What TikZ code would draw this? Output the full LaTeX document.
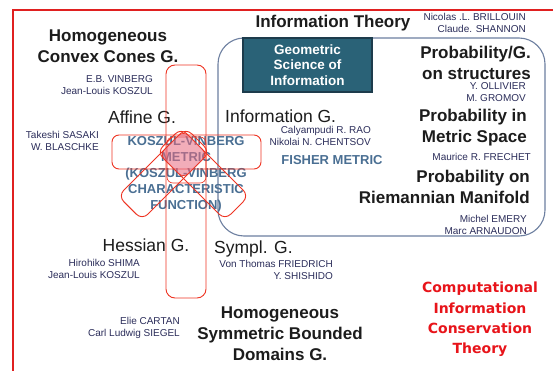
\documentclass[tikz,border=0pt]{standalone}
\usepackage{fontspec}
\setmainfont{Liberation Sans}
\newfontfamily\cictfont{DejaVu Sans}
\definecolor{headc}{HTML}{1C1C1C}
\definecolor{namec}{HTML}{2B2D5A}
\definecolor{steelc}{HTML}{4A6F93}
\definecolor{lensc}{HTML}{EE3322}
\definecolor{framec}{HTML}{E02020}
\definecolor{roundc}{HTML}{6D7FA0}
\definecolor{gsifill}{HTML}{2A6277}
\definecolor{gsiedge}{HTML}{1D3C4C}
\definecolor{cictc}{HTML}{E8141A}
\definecolor{pinkc}{HTML}{E86A80}

\begin{document}
\begin{tikzpicture}[x=1pt, y=-1pt,
    head/.style={font=\fontsize{17}{21}\selectfont\bfseries, text=headc,
                 inner sep=0pt, align=center},
    geom/.style={font=\fontsize{17.5}{21}\selectfont, text=headc, inner sep=0pt},
    who/.style={font=\fontsize{10}{12}\selectfont, text=namec, inner sep=0pt},
    metric/.style={font=\fontsize{13}{16}\selectfont\bfseries, text=steelc,
                   inner sep=0pt, align=center},
    gsibox/.style={fill=gsifill, draw=gsiedge, line width=1.2pt, minimum width=129pt,
                   minimum height=54pt, inner sep=0pt, text=white, align=center,
                   font=\fontsize{13.5}{15.5}\selectfont\bfseries},
    lens/.style={draw=lensc, line width=0.9pt, rounded corners=8pt},
]

    \fill[white] (0,0) rectangle (553,371);
    \useasboundingbox (0,0) rectangle (553,371);
    \draw[framec, line width=1.2pt] (13,371) -- (13,10) -- (553,10);

    % information geometry frame
    \draw[roundc, line width=1.1pt, rounded corners=26pt] (218,38) rectangle (545,236);
    \node[gsibox] (gsi) at (307.5,65) {Geometric\\Science of\\Information};

    \node[head] (infotheory) at (333,23) {Information Theory};
    \node[who, anchor=east, align=right] (brillouin) at (526,23)
        {Nicolas .L. BRILLOUIN\\Claude. SHANNON};

    \node[head] (cones) at (108,46.5) {Homogeneous\\Convex Cones G.};
    \node[who, anchor=east, align=right] (vinberg) at (153,85)
        {E.B. VINBERG\\Jean-Louis KOSZUL};
    \node[geom] (affine) at (142,117) {Affine G.};
    \node[who, anchor=east, align=right] (sasaki) at (99,141)
        {Takeshi SASAKI\\W. BLASCHKE};

    \node[geom, anchor=west] (infog) at (225,116) {Information G.};
    \node[who, anchor=east, align=right] (rao) at (371,136)
        {Calyampudi R. RAO\\Nikolai N. CHENTSOV};
    \node[metric] (fisher) at (332,160) {FISHER METRIC};
    \node[metric] (kvmetric) at (186,174)
        {KOSZUL-VINBERG\\METRIC\\(KOSZUL-VINBERG\\CHARACTERISTIC\\FUNCTION)};

    \node[head, anchor=east, align=right] (probstruct) at (531,62.5)
        {Probability/G.\\on structures};
    \node[who, anchor=east, align=right] (ollivier) at (526,92)
        {Y. OLLIVIER\\M. GROMOV};
    \node[head, anchor=east, align=right] (probmetric) at (527,127.5)
        {Probability in\\Metric Space};
    \node[who, anchor=east] (frechet) at (531,157) {Maurice R. FRECHET};
    \node[head, anchor=east, align=right] (probriem) at (530,187)
        {Probability on\\Riemannian Manifold};
    \node[who, anchor=east, align=right] (emery) at (527,224.5)
        {Michel EMERY\\Marc ARNAUDON};

    \node[geom] (hessian) at (146,245) {Hessian G.};
    \node[who, anchor=east, align=right] (shima) at (140,269)
        {Hirohiko SHIMA\\Jean-Louis KOSZUL};
    \node[geom, anchor=west] (sympl) at (214,249) {Sympl. G.};
    \node[who, anchor=east, align=right] (friedrich) at (333,270)
        {Von Thomas FRIEDRICH\\Y. SHISHIDO};

    \node[who, anchor=east, align=right] (cartan) at (180,328)
        {Elie CARTAN\\Carl Ludwig SIEGEL};
    \node[head] (symdom) at (280,334)
        {Homogeneous\\Symmetric Bounded\\Domains G.};

    \node[font=\cictfont\fontsize{14}{20.3}\selectfont\bfseries, text=cictc,
          align=center, inner sep=0pt] (cict) at (480,319.5)
        {Computational\\Information\\Conservation\\Theory};

    % crossing lenses
    \draw[lens, rounded corners=9pt] (166,65) rectangle (206,298);
    \draw[lens, rounded corners=7pt] (112,135) rectangle (261,169);
    \begin{scope}[shift={(164,174)}, rotate=45]
        \draw[lens] (-48,-17) rectangle (48,17);
    \end{scope}
    \begin{scope}[shift={(203,174)}, rotate=-45]
        \draw[lens] (-48,-17) rectangle (48,17);
    \end{scope}
    \draw[lens, line width=0.6pt, rounded corners=6pt] (167,137) rectangle (206,183);
    \filldraw[fill=pinkc, fill opacity=0.55, draw=lensc, line width=0.6pt,
              rounded corners=7pt]
        (183.5,130.5) -- (207.5,154.5) -- (183.5,178.5) -- (159.5,154.5) -- cycle;

\end{tikzpicture}
\end{document}
